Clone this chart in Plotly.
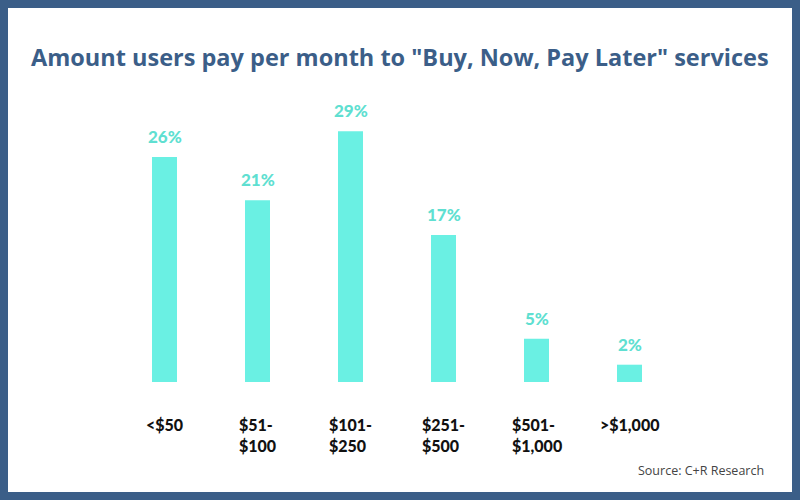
import plotly.graph_objects as go

categories = ["<$50", "$51-<br>$100", "$101-<br>$250", "$251-<br>$500", "$501-<br>$1,000", ">$1,000"]
values = [26, 21, 29, 17, 5, 2]
value_labels = ["26%", "21%", "29%", "17%", "5%", "2%"]
title_text = 'Amount users pay per month to "Buy, Now, Pay Later" services'
source_text = "Source: C+R Research"

W, H = 800, 500
bar_color = "#6af0e3"
label_color = "#5fdfd1"
navy = "#3b5e88"

x_pos = list(range(len(categories)))
# pixel mapping
x0_px, step_px = 164.5, 93.0
base_px, px_per = 382.0, 8.65

xr = [-x0_px / step_px, (W - x0_px) / step_px]
yr = [-(H - base_px) / px_per, base_px / px_per]

fig = go.Figure()
fig.add_trace(go.Bar(x=x_pos, y=values, width=25 / step_px,
                     marker=dict(color=bar_color, line=dict(width=0)),
                     hoverinfo="skip"))

ann = []
for xi, v, lab in zip(x_pos, values, value_labels):
    ann.append(dict(x=xi, y=v, xref="x", yref="y", text=lab, showarrow=False,
                    yanchor="bottom", yshift=8,
                    font=dict(family="Lato", size=17, color=label_color, weight=900)))
for xi, c in zip(x_pos, categories):
    ann.append(dict(x=xi, y=0, xref="x", yref="y", text=c, showarrow=False,
                    yanchor="top", yshift=-31, align="left",
                    font=dict(family="Lato", size=16, color="#111111", weight=900)))
ann.append(dict(x=0.5, y=1 - 57 / H, xref="paper", yref="paper", text="<b>" + title_text + "</b>",
                showarrow=False, xanchor="center", yanchor="middle",
                font=dict(family="Open Sans", size=23.5, color=navy)))
ann.append(dict(x=766 / W, y=1 - 470 / H, xref="paper", yref="paper", text=source_text,
                showarrow=False, xanchor="right", yanchor="middle",
                font=dict(family="Open Sans", size=12.5, color="#444444")))

fig.update_layout(
    width=W, height=H,
    margin=dict(l=0, r=0, t=0, b=0),
    paper_bgcolor="white", plot_bgcolor="white",
    showlegend=False,
    xaxis=dict(range=xr, visible=False, fixedrange=True),
    yaxis=dict(range=yr, visible=False, fixedrange=True),
    annotations=ann,
    shapes=[dict(type="rect", xref="paper", yref="paper", x0=0, y0=0, x1=1, y1=1,
                 line=dict(color=navy, width=16), layer="above")],
)
fig.write_html("out.html", config={"displayModeBar": False})
